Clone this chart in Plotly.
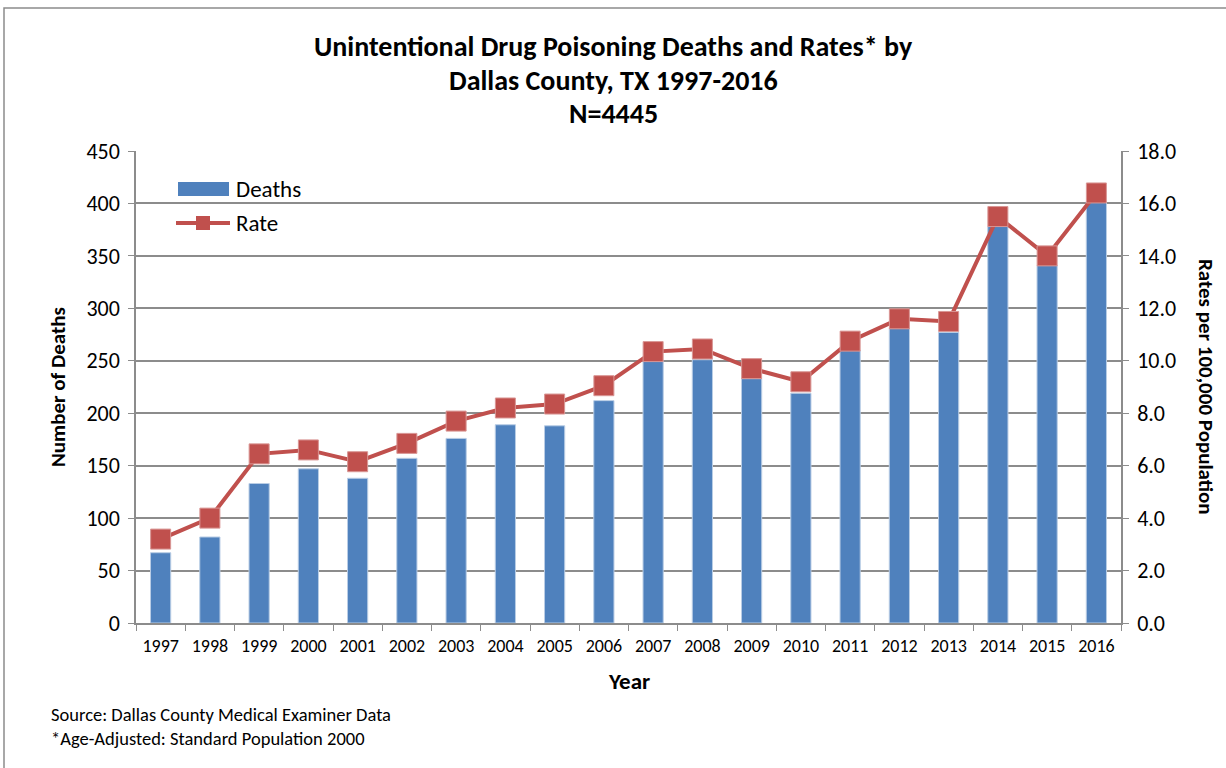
import plotly.graph_objects as go

years = [str(y) for y in range(1997, 2017)]
deaths = [67, 82, 133, 147, 138, 157, 176, 189, 188, 212, 250, 251, 233, 219, 260, 281, 277, 378, 341, 402]
rates = [3.2, 4.0, 6.45, 6.6, 6.15, 6.85, 7.7, 8.2, 8.35, 9.05, 10.35, 10.45, 9.7, 9.2, 10.75, 11.6, 11.5, 15.5, 14.0, 16.4]
left_ticks = list(range(0, 451, 50))
right_ticks = [0, 2, 4, 6, 8, 10, 12, 14, 16, 18]
title_lines = ["Unintentional Drug Poisoning Deaths and Rates* by", "Dallas County, TX 1997-2016", "N=4445"]

FONT = "Carlito, Calibri, Lato, sans-serif"
GRID = "#8c8c8c"
BLUE = "#4f81bd"
RED = "#c0504d"

# plot area in pixels
L, R, T, B = 136, 1121, 151, 623
def px(x):
    return (x - L) / (R - L)
def py(y):
    return (B - y) / (B - T)

fig = go.Figure()
fig.add_trace(go.Bar(x=years, y=deaths, name="Deaths", marker=dict(color=BLUE, line=dict(color="#b9cde5", width=1)),
                     yaxis="y", showlegend=False))
fig.add_trace(go.Scatter(x=years, y=rates, name="Rate", mode="lines+markers", yaxis="y2", showlegend=False,
                         line=dict(color=RED, width=4),
                         marker=dict(symbol="square", size=20, color=RED, line=dict(color="#d99694", width=1))))

annotations = []
for i, (line, yy) in enumerate(zip(title_lines, [47, 80, 113])):
    annotations.append(dict(text="<b>%s</b>" % line, xref="paper", yref="paper", x=px(613), y=py(yy),
                            xanchor="center", yanchor="middle", showarrow=False, font=dict(size=28)))
annotations += [
    dict(text="<b>Rates per 100,000 Population</b>", textangle=90, xref="paper", yref="paper",
         x=px(1206), y=py(387), xanchor="center", yanchor="middle", showarrow=False, font=dict(size=21)),
    dict(text="<b>Number of Deaths</b>", textangle=-90, xref="paper", yref="paper",
         x=px(58), y=py(387), xanchor="center", yanchor="middle", showarrow=False, font=dict(size=21)),
    dict(text="<b>Year</b>", xref="paper", yref="paper",
         x=px(629), y=py(681), xanchor="center", yanchor="middle", showarrow=False, font=dict(size=23)),
    dict(text="Deaths", xref="paper", yref="paper", x=px(234), y=py(189),
         xanchor="left", yanchor="middle", showarrow=False, font=dict(size=23)),
    dict(text="Rate", xref="paper", yref="paper", x=px(234), y=py(223),
         xanchor="left", yanchor="middle", showarrow=False, font=dict(size=23)),
    dict(text="Source: Dallas County Medical Examiner Data", xref="paper", yref="paper",
         x=px(49), y=py(714), xanchor="left", yanchor="middle", showarrow=False, font=dict(size=18.5)),
    dict(text="*Age-Adjusted: Standard Population 2000", xref="paper", yref="paper",
         x=px(49), y=py(738), xanchor="left", yanchor="middle", showarrow=False, font=dict(size=18.5)),
]

shapes = [
    dict(type="rect", xref="paper", yref="paper", x0=px(4), x1=px(1240), y0=py(790), y1=py(8),
         line=dict(color="#8c8c8c", width=1.5), fillcolor="rgba(0,0,0,0)", layer="below"),
    # legend swatches
    dict(type="rect", xref="paper", yref="paper", x0=px(178), x1=px(229), y0=py(196), y1=py(182),
         line=dict(width=0), fillcolor=BLUE),
    dict(type="line", xref="paper", yref="paper", x0=px(176), x1=px(230), y0=py(223), y1=py(223),
         line=dict(color=RED, width=4)),
    dict(type="rect", xref="paper", yref="paper", x0=px(196), x1=px(210), y0=py(230), y1=py(216),
         line=dict(width=0), fillcolor=RED),
]

fig.update_layout(
    width=1226, height=768,
    margin=dict(l=L, r=1226 - R, t=T, b=768 - B),
    paper_bgcolor="white", plot_bgcolor="white",
    font=dict(family=FONT, color="black"),
    bargap=0.59,
    showlegend=False,
    xaxis=dict(type="category", range=[-0.5, 19.5], showline=True, linecolor=GRID, linewidth=1.5,
               ticks="outside", tickson="boundaries", ticklen=6, tickcolor=GRID, tickfont=dict(size=18),
               showgrid=False, ticklabelstandoff=6),
    yaxis=dict(range=[0, 450], tickvals=left_ticks, showline=True, linecolor=GRID, linewidth=1.5,
               ticks="outside", ticklen=6, tickcolor=GRID, gridcolor=GRID, gridwidth=1.5,
               tickfont=dict(size=22), ticklabelstandoff=4),
    yaxis2=dict(range=[0, 18], tickvals=right_ticks, tickformat=".1f", overlaying="y", side="right",
                showline=True, linecolor=GRID, linewidth=1.5, ticks="outside", ticklen=6, tickcolor=GRID,
                showgrid=False, tickfont=dict(size=22), ticklabelstandoff=4),
    shapes=shapes,
    annotations=annotations,
)

fig.write_html("out.html")
